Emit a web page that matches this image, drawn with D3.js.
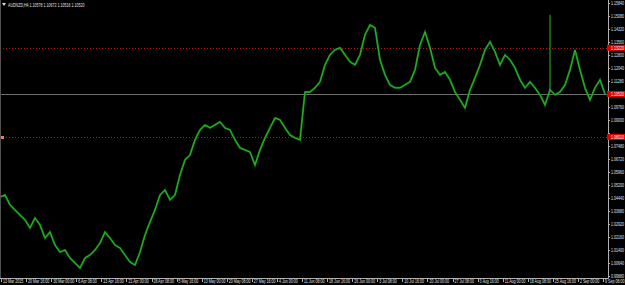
<!DOCTYPE html>
<html>
<head>
<title>AUDNZD,H4</title>
<script src="https://d3js.org/d3.v7.min.js"></script>
<style>
  body { margin: 0; background: #000; }
  svg { display: block; }
</style>
</head>
<body>
<svg width="625" height="285"></svg>

<script>

// header quote
const symbol = 'AUDNZD,H4';
const quote = ['1.10578', '1.10672', '1.10516', '1.10520'];

// price axis ticks (bottom value and step)
const priceStart = 0.9988;
const priceStep = 0.0076;
const priceTickCount = 22;

// time axis labels
const timeLabels = ['13 Mar 2015', '20 Mar 16:00', '30 Mar 00:00', '6 Apr 08:00', '13 Apr 16:00',
  '21 Apr 00:00', '28 Apr 08:00', '5 May 16:00', '13 May 00:00', '20 May 08:00', '27 May 16:00',
  '4 Jun 00:00', '11 Jun 08:00', '18 Jun 16:00', '26 Jun 00:00', '3 Jul 08:00', '10 Jul 16:00',
  '20 Jul 00:00', '27 Jul 08:00', '3 Aug 16:00', '11 Aug 00:00', '18 Aug 08:00', '25 Aug 16:00',
  '2 Sep 00:00', '9 Sep 08:00'];

// closes
const closes = [
  1.0450, 1.0462, 1.0403, 1.0374, 1.0345, 1.0316, 1.0269, 1.0327, 1.0286, 1.0210,
  1.0245, 1.0169, 1.0128, 1.0140, 1.0093, 1.0064, 1.0035, 1.0093, 1.0111, 1.0140,
  1.0181, 1.0245, 1.0210, 1.0169, 1.0152, 1.0111, 1.0070, 1.0052, 1.0128, 1.0228,
  1.0304, 1.0374, 1.0462, 1.0491, 1.0433, 1.0462, 1.0579, 1.0667, 1.0696, 1.0784,
  1.0842, 1.0871, 1.0854, 1.0871, 1.0889, 1.0854, 1.0842, 1.0784, 1.0737, 1.0725,
  1.0713, 1.0637, 1.0725, 1.0795, 1.0854, 1.0912, 1.0901, 1.0854, 1.0813, 1.0795,
  1.0784, 1.1064, 1.1064, 1.1088, 1.1123, 1.1222, 1.1281, 1.1310, 1.1322, 1.1281,
  1.1240, 1.1222, 1.1281, 1.1398, 1.1456, 1.1439, 1.1252, 1.1164, 1.1105, 1.1088,
  1.1088, 1.1105, 1.1123, 1.1193, 1.1339, 1.1415, 1.1322, 1.1205, 1.1164, 1.1181,
  1.1135, 1.1064, 1.1018, 1.0971, 1.1076, 1.1146, 1.1222, 1.1310, 1.1357, 1.1298,
  1.1222, 1.1281, 1.1252, 1.1205, 1.1135, 1.1088, 1.1123, 1.1088, 1.1047, 1.0988,
  1.1076, 1.1047, 1.1064, 1.1105, 1.1193, 1.1310, 1.1193, 1.1088, 1.1018, 1.1088,
  1.1135, 1.1052
];

// single long wick (index, high)
const wicks = [[110, 1.1515]];

// horizontal levels
const levels = [1.1322, 1.0801];
const bid = 1.1052;

const svg = d3.select('svg');
const width = +svg.attr('width');
const height = +svg.attr('height');

const axisX = 608;
const axisY = 278;
const font = '"Liberation Sans", Arial, sans-serif';
const fmt = d3.format('.5f');
// tiny terminal text: draw at 8px then squeeze
const squeeze = 'scale(0.45,0.72)';

svg.append('rect').attr('width', width).attr('height', height).attr('fill', '#000');

// scales
const priceTicks = d3.range(priceTickCount).map(i => priceStart + i * priceStep);
const y = d3.scaleLinear()
    .domain([priceTicks[0], priceTicks[priceTicks.length - 1]])
    .range([276, 3]);

const x = d3.scaleLinear()
    .domain([0, closes.length - 1])
    .range([0, 605]);

const xLab = d3.scalePoint()
    .domain(timeLabels)
    .range([2, 604]);

// helper for small text
const smallText = (sel, tx, ty, color) => sel
    .attr('transform', (d, i) => `translate(${tx(d, i)},${ty(d, i)}) ${squeeze}`)
    .attr('fill', color)
    .attr('font-family', font)
    .attr('font-size', 8);

// level lines
svg.selectAll('.level').data(levels)
  .enter().append('line')
    .attr('x1', 0).attr('x2', axisX)
    .attr('y1', d => Math.round(y(d)) + 0.5)
    .attr('y2', d => Math.round(y(d)) + 0.5)
    .attr('stroke', '#c01010')
    .attr('stroke-width', 1)
    .attr('stroke-dasharray', '1,2');

svg.append('line')
    .attr('x1', 0).attr('x2', axisX)
    .attr('y1', Math.round(y(bid)) + 0.5)
    .attr('y2', Math.round(y(bid)) + 0.5)
    .attr('stroke', '#6e6e6e')
    .attr('stroke-width', 1);

// small marker at left of lower level
svg.append('rect')
    .attr('x', 1).attr('y', Math.round(y(levels[1])) - 1)
    .attr('width', 3).attr('height', 3)
    .attr('fill', '#ff7070');

// price line
const line = d3.line()
    .x((d, i) => x(i))
    .y(d => y(d));

svg.append('path')
    .datum(closes)
    .attr('d', line)
    .attr('fill', 'none')
    .attr('stroke', '#128612')
    .attr('stroke-width', 2)
    .attr('stroke-linejoin', 'miter');

svg.append('path')
    .datum(closes)
    .attr('d', line)
    .attr('fill', 'none')
    .attr('stroke', '#2ec42e')
    .attr('stroke-width', 0.7);

svg.selectAll('.wick').data(wicks)
  .enter().append('line')
    .attr('x1', d => x(d[0])).attr('x2', d => x(d[0]))
    .attr('y1', d => y(closes[d[0]]))
    .attr('y2', d => y(d[1]))
    .attr('stroke', '#2cb82c')
    .attr('stroke-width', 1);

// axes frame
svg.append('line')
    .attr('x1', axisX + 0.5).attr('x2', axisX + 0.5)
    .attr('y1', 0).attr('y2', axisY + 0.5)
    .attr('stroke', '#b0b0b0');
svg.append('line')
    .attr('x1', 0).attr('x2', axisX + 0.5)
    .attr('y1', axisY + 0.5).attr('y2', axisY + 0.5)
    .attr('stroke', '#b0b0b0');
svg.append('line')
    .attr('x1', 0.5).attr('x2', 0.5)
    .attr('y1', 0).attr('y2', axisY)
    .attr('stroke', '#505050');

// price tags (levels + bid)
const tags = levels.concat([bid]);

// price axis labels, skipping the ones hidden under a tag
const shown = priceTicks.filter(t => tags.every(g => Math.abs(y(g) - y(t)) > 4.5));
const py = svg.append('g');
py.selectAll('line').data(priceTicks)
  .enter().append('line')
    .attr('x1', axisX).attr('x2', axisX + 2)
    .attr('y1', d => Math.round(y(d)) + 0.5)
    .attr('y2', d => Math.round(y(d)) + 0.5)
    .attr('stroke', '#b0b0b0');
py.selectAll('text').data(shown)
  .enter().append('text')
    .call(smallText, () => 611, d => y(d) + 2, '#e0e0e0')
    .text(d => fmt(d));

// red price tags
const tg = svg.selectAll('.tag').data(tags).enter().append('g');
tg.append('rect')
    .attr('x', axisX - 1).attr('y', d => y(d) - 3)
    .attr('width', width - axisX + 1).attr('height', 6)
    .attr('fill', '#e00000');
tg.append('text')
    .call(smallText, () => 611, d => y(d) + 2, '#fff')
    .text(d => fmt(d));

// time axis labels
const tx = svg.append('g');
tx.selectAll('line').data(timeLabels)
  .enter().append('line')
    .attr('x1', d => Math.round(xLab(d)) - 0.5)
    .attr('x2', d => Math.round(xLab(d)) - 0.5)
    .attr('y1', axisY).attr('y2', axisY + 4)
    .attr('stroke', '#b0b0b0');
tx.selectAll('text').data(timeLabels)
  .enter().append('text')
    .call(smallText, d => xLab(d) + 1, () => 283, '#e0e0e0')
    .text(d => d);

// header
svg.append('path')
    .attr('d', 'M2,3 L6,3 L4,6 Z')
    .attr('fill', '#e0e0e0');
svg.append('text')
    .datum(0)
    .call(smallText, () => 8, () => 7, '#e0e0e0')
    .text(symbol + '  ' + quote.join(' '));

</script>
</body>
</html>
